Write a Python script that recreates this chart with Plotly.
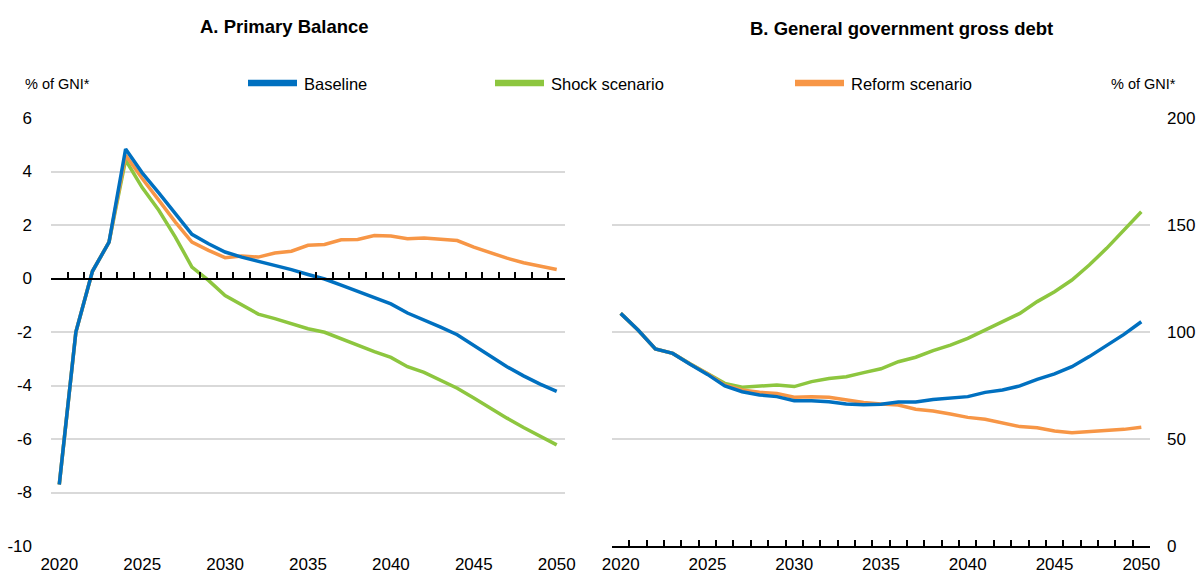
import plotly.graph_objects as go

# ---- data -------------------------------------------------------------
years = list(range(2020, 2051))

# Panel A: primary balance, % of GNI*
pb_baseline = [-7.7, -2.0, 0.27, 1.36, 4.84, 3.95, 3.2, 2.4, 1.65, 1.3,
               0.99, 0.8, 0.65, 0.5, 0.33, 0.15, -0.02, -0.25, -0.48, -0.72,
               -0.95, -1.29, -1.54, -1.82, -2.1, -2.51, -2.92, -3.3, -3.64, -3.95,
               -4.22]
pb_shock = [-7.7, -2.0, 0.27, 1.36, 4.43, 3.4, 2.55, 1.55, 0.43, -0.07,
            -0.64, -1.0, -1.33, -1.5, -1.69, -1.88, -2.01, -2.26, -2.51, -2.73,
            -2.95, -3.3, -3.51, -3.8, -4.1, -4.47, -4.86, -5.22, -5.57, -5.89,
            -6.22]
pb_reform = [-7.7, -2.0, 0.27, 1.36, 4.61, 3.74, 2.93, 2.11, 1.36, 1.05,
             0.78, 0.84, 0.8, 0.95, 1.02, 1.24, 1.27, 1.45, 1.46, 1.61,
             1.59, 1.49, 1.51, 1.47, 1.42, 1.17, 0.95, 0.76, 0.59, 0.45,
             0.34]

# Panel B: general government gross debt, % of GNI*
debt_baseline = [108.7, 100.9, 92.1, 90.0, 84.9, 80.2, 74.8, 72.1, 70.6, 69.8,
                 67.9, 67.9, 67.4, 66.4, 66.0, 66.2, 67.3, 67.3, 68.5, 69.0,
                 69.8, 71.8, 72.9, 74.8, 77.9, 80.4, 83.8, 88.5, 93.5, 98.9,
                 104.8]
debt_shock = [108.7, 100.9, 92.1, 90.0, 85.2, 80.8, 76.0, 74.2, 74.5, 75.2,
              74.5, 76.8, 78.3, 79.1, 81.0, 82.8, 86.1, 88.2, 91.3, 93.9,
              97.0, 100.9, 104.4, 108.7, 114.2, 118.8, 124.3, 131.3, 139.1, 147.7,
              156.2]
debt_reform = [108.7, 100.9, 92.1, 90.0, 85.0, 80.5, 75.3, 72.9, 71.8, 71.3,
               69.5, 69.8, 69.5, 68.2, 67.1, 66.4, 65.9, 63.9, 63.1, 61.7,
               60.1, 59.2, 57.6, 55.8, 55.3, 53.7, 52.9, 53.4, 53.7, 54.5,
               55.5]

series_names = ["Baseline", "Shock scenario", "Reform scenario"]
colors = {"Baseline": "#0070C0", "Shock scenario": "#8DC63F", "Reform scenario": "#F79646"}

year_labels = [2020, 2025, 2030, 2035, 2040, 2045, 2050]
pb_ticks = [-10, -8, -6, -4, -2, 0, 2, 4, 6]
debt_ticks = [0, 50, 100, 150, 200]

# ---- layout geometry --------------------------------------------------
W, H = 1201, 573
FONT = "Liberation Sans Narrow, Arial Narrow, Liberation Sans, Arial, sans-serif"
GRID = "#D9D9D9"

def px_x(p):
    return p / W

def px_y(p):
    return 1 - p / H

dom_a = [px_x(51), px_x(565)]
dom_b = [px_x(612), px_x(1150)]
dom_y = [px_y(546), px_y(118)]
xr = [2019.5, 2050.5]
pb_range = [-10, 6]
debt_range = [0, 200]
boundaries = [y + 0.5 for y in range(2019, 2051)]

fig = go.Figure()

draw_order = ["Shock scenario", "Reform scenario", "Baseline"]
pb_data = {"Baseline": pb_baseline, "Shock scenario": pb_shock, "Reform scenario": pb_reform}
debt_data = {"Baseline": debt_baseline, "Shock scenario": debt_shock, "Reform scenario": debt_reform}

for name in draw_order:
    fig.add_trace(go.Scatter(x=years, y=pb_data[name], name=name, mode="lines",
                             line=dict(color=colors[name], width=3.5),
                             xaxis="x", yaxis="y", showlegend=False))
for name in draw_order:
    fig.add_trace(go.Scatter(x=years, y=debt_data[name], name=name, mode="lines",
                             line=dict(color=colors[name], width=3.5),
                             xaxis="x2", yaxis="y2", showlegend=False))

# empty traces so the tick-only axes are drawn
fig.add_trace(go.Scatter(x=[None], y=[None], xaxis="x3", yaxis="y", showlegend=False, hoverinfo="skip"))
fig.add_trace(go.Scatter(x=[None], y=[None], xaxis="x4", yaxis="y2", showlegend=False, hoverinfo="skip"))

zero_pos = dom_y[0] + (0 - pb_range[0]) / (pb_range[1] - pb_range[0]) * (dom_y[1] - dom_y[0])

TICK_FONT = dict(family=FONT, size=17, color="#000")

label_axis = dict(range=xr, tickmode="array", tickvals=year_labels, ticktext=[str(v) for v in year_labels],
                  ticks="", ticklabelstandoff=6, showgrid=False, zeroline=False, automargin=False,
                  tickfont=TICK_FONT, fixedrange=True)
tick_axis = dict(range=xr, tickmode="array", tickvals=boundaries, ticks="inside", ticklen=6,
                 tickwidth=1.5, tickcolor="#000", showticklabels=False, showgrid=False, zeroline=False,
                 showline=True, linecolor="#000", linewidth=1.5, fixedrange=True, automargin=False)

fig.update_layout(
    template="none",
    width=W, height=H, autosize=False,
    margin=dict(l=0, r=0, t=0, b=0, pad=0),
    paper_bgcolor="white", plot_bgcolor="white",
    showlegend=False,
    font=dict(family=FONT, color="#000"),
    xaxis=dict(domain=dom_a, anchor="y", showline=False, **label_axis),
    xaxis2=dict(domain=dom_b, anchor="y2", showline=False, **label_axis),
    xaxis3=dict(overlaying="x", anchor="free", position=zero_pos, **tick_axis),
    xaxis4=dict(overlaying="x2", anchor="y2", **tick_axis),
    yaxis=dict(domain=dom_y, anchor="x", range=pb_range, tickmode="array", tickvals=pb_ticks,
               ticktext=[str(v) for v in pb_ticks], ticks="", ticklabelstandoff=18,
               showgrid=True, gridcolor=GRID, gridwidth=1.7, zeroline=False, showline=False,
               automargin=False, tickfont=TICK_FONT, fixedrange=True),
    yaxis2=dict(domain=dom_y, anchor="x2", side="right", range=debt_range, tickmode="array",
                tickvals=debt_ticks, ticktext=[str(v) for v in debt_ticks], ticks="",
                ticklabelstandoff=16, showgrid=True, gridcolor=GRID, gridwidth=1.7, zeroline=False,
                showline=False, automargin=False, tickfont=TICK_FONT, fixedrange=True),
)

# panel titles and unit labels
fig.add_annotation(text="<b>A. Primary Balance</b>", x=px_x(284), y=px_y(26), xref="paper", yref="paper",
                   xanchor="center", yanchor="middle", showarrow=False, font=dict(family=FONT, size=18.5))
fig.add_annotation(text="<b>B. General government gross debt</b>", x=px_x(901), y=px_y(29), xref="paper",
                   yref="paper", xanchor="center", yanchor="middle", showarrow=False,
                   font=dict(family=FONT, size=18.5))
fig.add_annotation(text="% of GNI*", x=px_x(23), y=px_y(84), xref="paper", yref="paper",
                   xanchor="left", yanchor="middle", showarrow=False, font=dict(family=FONT, size=14.5))
fig.add_annotation(text="% of GNI*", x=px_x(1178), y=px_y(84), xref="paper", yref="paper",
                   xanchor="right", yanchor="middle", showarrow=False, font=dict(family=FONT, size=14.5))

# legend: line sample followed by the series name
legend_pos = {"Baseline": 246, "Shock scenario": 493, "Reform scenario": 793}
for name in series_names:
    x0 = legend_pos[name]
    fig.add_shape(type="line", xref="paper", yref="paper", x0=px_x(x0 + 2), x1=px_x(x0 + 51),
                  y0=px_y(83), y1=px_y(83), line=dict(color=colors[name], width=6.5))
    fig.add_annotation(text=name, x=px_x(x0 + 56), y=px_y(84), xref="paper", yref="paper",
                       xanchor="left", yanchor="middle", showarrow=False, font=dict(family=FONT, size=16.5))

fig.write_html("out.html")
